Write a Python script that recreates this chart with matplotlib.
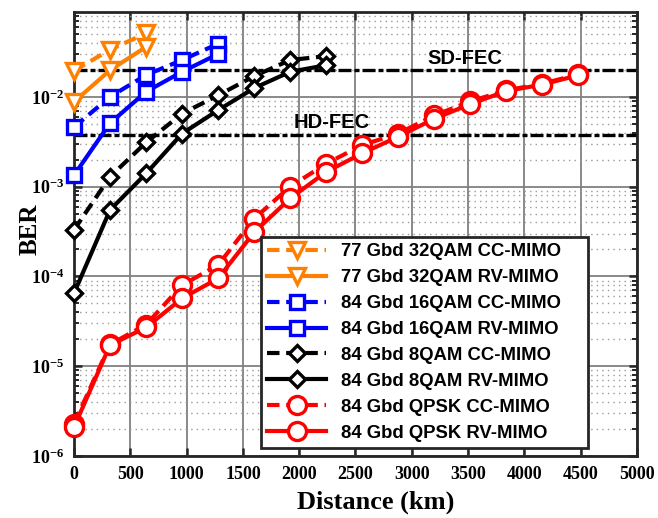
import matplotlib
matplotlib.use('Agg')
import matplotlib.pyplot as plt

# distances (km) and BER curves
dist = [0, 320, 640, 960, 1280, 1600, 1920, 2240, 2560, 2880, 3200, 3520, 3840, 4160, 4480]

qam32_cc = [1.95e-2, 3.35e-2, 5.1e-2]
qam32_rv = [8.8e-3, 1.98e-2, 3.6e-2]
qam16_cc = [4.6e-3, 1.0e-2, 1.75e-2, 2.57e-2, 3.9e-2]
qam16_rv = [1.34e-3, 5.1e-3, 1.14e-2, 1.9e-2, 3.0e-2]
qam8_cc = [3.3e-4, 1.29e-3, 3.1e-3, 6.5e-3, 1.04e-2, 1.7e-2, 2.57e-2, 2.84e-2]
qam8_rv = [6.5e-5, 5.5e-4, 1.4e-3, 3.9e-3, 7.1e-3, 1.25e-2, 1.9e-2, 2.25e-2]
qpsk_cc = [2.3e-6, 1.75e-5, 2.9e-5, 8.0e-5, 1.34e-4, 4.4e-4, 1.0e-3, 1.8e-3,
           2.9e-3, 3.9e-3, 6.2e-3, 8.9e-3, 1.18e-2, 1.4e-2, 1.78e-2]
qpsk_rv = [2.1e-6, 1.72e-5, 2.7e-5, 5.7e-5, 9.5e-5, 3.1e-4, 7.4e-4, 1.46e-3,
           2.35e-3, 3.6e-3, 5.7e-3, 8.3e-3, 1.16e-2, 1.37e-2, 1.74e-2]

labels = ['77 Gbd 32QAM CC-MIMO', '77 Gbd 32QAM RV-MIMO',
          '84 Gbd 16QAM CC-MIMO', '84 Gbd 16QAM RV-MIMO',
          '84 Gbd 8QAM CC-MIMO', '84 Gbd 8QAM RV-MIMO',
          '84 Gbd QPSK CC-MIMO', '84 Gbd QPSK RV-MIMO']

sd_fec = 2e-2
hd_fec = 3.8e-3

plt.rcParams['font.family'] = 'Liberation Serif'
plt.rcParams['font.weight'] = 'bold'

fig = plt.figure(figsize=(6.58, 5.18), dpi=100)
ax = fig.add_axes([0.1125, 0.1197, 0.8555, 0.8571])

# FEC thresholds
fec_dash = (3.9, 0.9, 1.5, 0.9)
ax.axhline(sd_fec, color='black', lw=2.4, dashes=fec_dash, zorder=2)
ax.axhline(hd_fec, color='black', lw=2.4, dashes=fec_dash, zorder=2)

series = [
    (qam32_cc, '#FF8000', 'v', 12, True),
    (qam32_rv, '#FF8000', 'v', 12, False),
    (qam16_cc, '#0000FF', 's', 9.5, True),
    (qam16_rv, '#0000FF', 's', 9.5, False),
    (qam8_cc, 'black', 'D', 8.5, True),
    (qam8_rv, 'black', 'D', 8.5, False),
    (qpsk_cc, '#FF0000', 'o', 13, True),
    (qpsk_rv, '#FF0000', 'o', 13, False),
]

handles = []
for (ber, color, marker, ms, dashed), lab in zip(series, labels):
    kw = dict(color=color, lw=3, marker=marker, ms=ms, mfc='white',
              mec=color, mew=2.4, label=lab, zorder=3, clip_on=False)
    if dashed:
        kw['dashes'] = (3, 1.6)
    h, = ax.plot(dist[:len(ber)], ber, **kw)
    handles.append(h)

ax.set_yscale('log')
ax.set_xlim(0, 5000)
ax.set_ylim(1e-6, 0.088)
ax.set_xticks(range(0, 5001, 500))

ax.grid(True, which='major', color='#808080', lw=1.3, ls='-')
ax.grid(True, which='minor', axis='y', color='#9a9a9a', lw=1.0, ls=(0, (1, 3)))
ax.set_axisbelow(True)

ax.tick_params(which='both', direction='in', top=True, right=True,
               colors='#262626', labelcolor='black')
ax.tick_params(which='major', length=6, width=1.8, labelsize=13, pad=7)
ax.tick_params(which='minor', length=3.5, width=1.4)
ax.tick_params(axis='x', which='minor', bottom=False, top=False)
for sp in ax.spines.values():
    sp.set_linewidth(2.0)
    sp.set_color('#262626')

ax.set_xlabel('Distance (km)', fontsize=19, fontweight='bold')
ax.set_ylabel('BER', fontsize=18, fontweight='bold')
ax.xaxis.set_label_coords(0.536, -0.078)
ax.yaxis.set_label_coords(-0.058, 0.51)

ax.text(3472, 0.027, 'SD-FEC', family='Liberation Sans', fontsize=14.5,
        fontweight='bold', ha='center', va='center')
ax.text(2291, 5.2e-3, 'HD-FEC', family='Liberation Sans', fontsize=14.5,
        fontweight='bold', ha='center', va='center')

leg = ax.legend(handles=handles, loc='lower left', mode='expand',
                bbox_to_anchor=(0.332, 0.018, 0.581, 0.46),
                prop={'family': 'Liberation Sans', 'weight': 'bold', 'size': 13.3},
                frameon=True, fancybox=False, framealpha=1, edgecolor='#262626',
                handlelength=3.2, handletextpad=0.8, labelspacing=0.48,
                borderpad=0.35, borderaxespad=0)
leg.get_frame().set_linewidth(2.0)
leg.set_zorder(5)

fig.savefig('out.png', dpi=100)
